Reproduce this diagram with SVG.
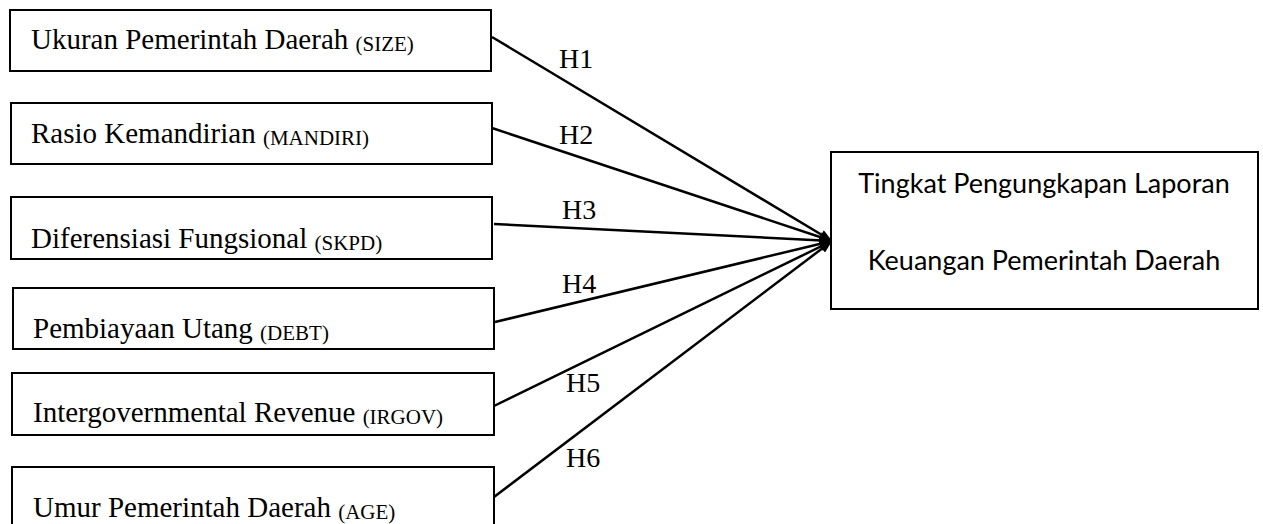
<svg xmlns="http://www.w3.org/2000/svg" width="1263" height="524" viewBox="0 0 1263 524">
<style>
.box{fill:#fff;stroke:#000;stroke-width:2}
.t{font-family:"Liberation Serif","Times New Roman",serif;font-size:29px;fill:#000}
.s{font-size:21px}
.h{font-family:"Liberation Serif","Times New Roman",serif;font-size:28px;fill:#000}
.c{font-family:Lato,"Open Sans",sans-serif;font-size:27px;fill:#000;text-anchor:middle}
.ln{stroke:#000;stroke-width:2.5;fill:none;marker-end:url(#ah)}
</style>
<defs>
<marker id="ah" viewBox="0 0 10 8" refX="10" refY="4" markerWidth="13" markerHeight="10" markerUnits="userSpaceOnUse" orient="auto">
<path d="M0,0 L10,4 L0,8 Z" fill="#000"/>
</marker>
</defs>
<rect width="1263" height="524" fill="#fff"/>
<g id="connectors">
<line class="ln" x1="492" y1="37" x2="832" y2="241"/>
<line class="ln" x1="492" y1="128" x2="832" y2="241"/>
<line class="ln" x1="494" y1="224" x2="832" y2="241"/>
<line class="ln" x1="495" y1="322" x2="832" y2="241"/>
<line class="ln" x1="494" y1="406" x2="832" y2="241"/>
<line class="ln" x1="494" y1="497" x2="832" y2="241"/>
<text class="h" x="559" y="68">H1</text>
<text class="h" x="559" y="144">H2</text>
<text class="h" x="562" y="219">H3</text>
<text class="h" x="562" y="293">H4</text>
<text class="h" x="566" y="392">H5</text>
<text class="h" x="566" y="467">H6</text>
</g>
<g id="size">
<rect class="box" x="10" y="10" width="481" height="61"/>
<text class="t" x="31" y="49">Ukuran Pemerintah Daerah <tspan class="s" dy="2">(SIZE)</tspan></text>
</g>
<g id="mandiri">
<rect class="box" x="11" y="103" width="481" height="61"/>
<text class="t" x="31" y="143">Rasio Kemandirian <tspan class="s" dy="2">(MANDIRI)</tspan></text>
</g>
<g id="skpd">
<rect class="box" x="11" y="197" width="481" height="62"/>
<text class="t" x="31" y="248">Diferensiasi Fungsional <tspan class="s" dy="2">(SKPD)</tspan></text>
</g>
<g id="debt">
<rect class="box" x="13" y="288" width="481" height="61"/>
<text class="t" x="33" y="338">Pembiayaan Utang <tspan class="s" dy="2">(DEBT)</tspan></text>
</g>
<g id="irgov">
<rect class="box" x="12" y="373" width="482" height="62"/>
<text class="t" x="33" y="422">Intergovernmental Revenue <tspan class="s" dy="2">(IRGOV)</tspan></text>
</g>
<g id="age">
<rect class="box" x="12" y="467" width="482" height="70"/>
<text class="t" x="33" y="517">Umur Pemerintah Daerah <tspan class="s" dy="2">(AGE)</tspan></text>
</g>
<g id="tingkat">
<rect class="box" x="831" y="152" width="427" height="157"/>
<text class="c" x="1044" y="193">Tingkat Pengungkapan Laporan</text>
<text class="c" x="1044" y="270">Keuangan Pemerintah Daerah</text>
</g>
</svg>
